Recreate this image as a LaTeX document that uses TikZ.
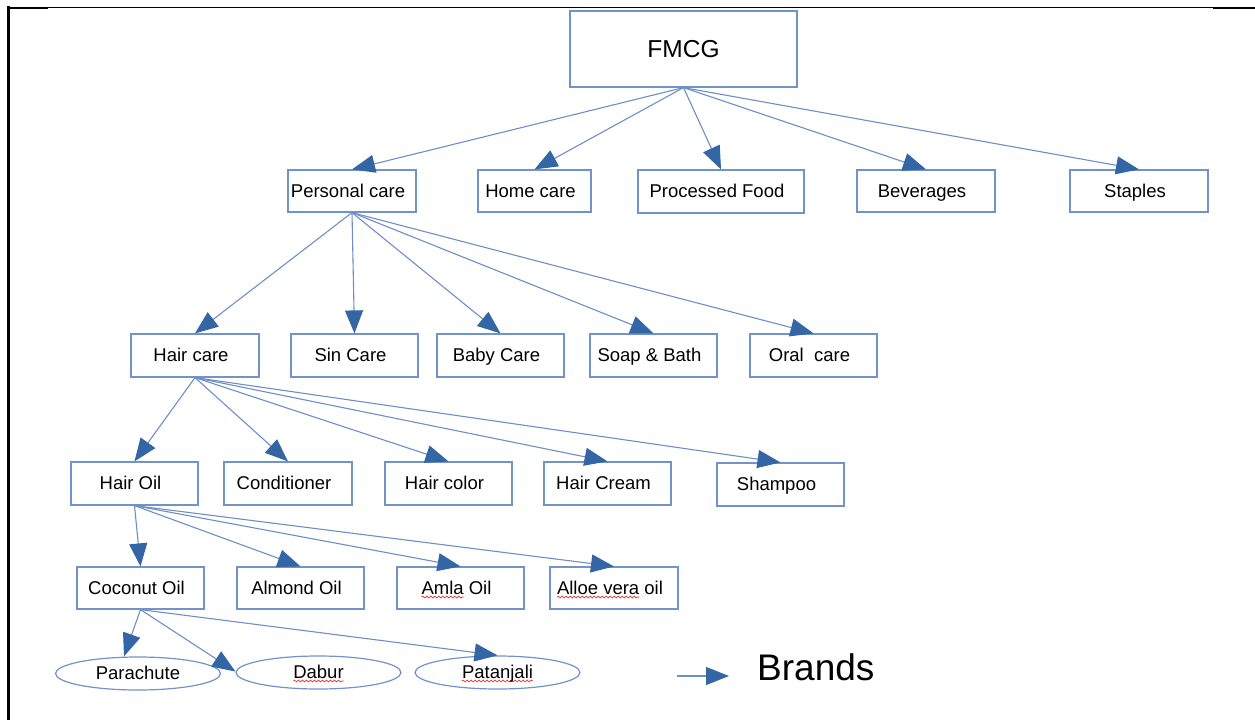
\documentclass[tikz,border=0pt]{standalone}
\usepackage{fontspec}
\setmainfont{Liberation Sans}
\usetikzlibrary{arrows.meta,shapes.geometric,decorations.pathmorphing,calc}
\definecolor{boxblue}{RGB}{114,147,202}
\definecolor{lineblue}{RGB}{110,142,200}
\definecolor{tipblue}{RGB}{52,101,164}
\definecolor{spellred}{RGB}{225,30,30}
\newlength\wavylen
\newcommand\wavy[1]{\settowidth\wavylen{#1}\rlap{\tikz[overlay,baseline=0pt,x=1pt,y=1pt]\draw[spellred,line width=0.6pt,decorate,decoration={snake,amplitude=0.9pt,segment length=4pt}] (0pt,-3pt) -- (\wavylen,-3pt);}#1}
\begin{document}
\begin{tikzpicture}[x=1pt,y=-1pt,
 plainbox/.style={draw=boxblue,line width=1.2pt,rectangle,inner sep=0pt,minimum width=127pt,minimum height=43pt,font=\fontsize{18.5}{20}\selectfont,text height=16pt,text depth=4pt},
 box/.style={plainbox,execute at begin node=\hspace*{-8pt}},
 brand/.style={draw=boxblue,line width=1.2pt,ellipse,inner sep=0pt,minimum width=165pt,minimum height=33pt,font=\fontsize{18.5}{20}\selectfont,text height=15pt,text depth=4pt},
 conn/.style={draw=lineblue,line width=1.1pt,-{Triangle[length=23pt,width=18pt,color=tipblue]}},
 frame/.style={draw=black}
]
\useasboundingbox (0,0) rectangle (1255,720);
% page frame
\draw[frame,line width=1pt] (8,7.2) -- (1255,7.2);
\draw[frame,line width=2pt] (8,7.7) -- (48,7.7);
\draw[frame,line width=2pt] (1213,7.7) -- (1255,7.7);
\draw[frame,line width=2.7pt] (8.7,6.2) -- (8.7,720);

% level 0
\node[plainbox,minimum width=227pt,minimum height=76pt,font=\fontsize{24.5}{27}\selectfont,text height=19pt,text depth=3pt] (fmcg) at (683.5,49) {FMCG};
% level 1
\node[box,minimum width=128pt,minimum height=42pt] (pc) at (352,191) {Personal care};
\node[box,minimum width=113pt,minimum height=42pt] (hc) at (534.5,191) {Home care};
\node[box,minimum width=166pt,minimum height=43pt] (pf) at (721,191.5) {Processed Food};
\node[box,minimum width=138pt,minimum height=42pt] (bev) at (926,191) {Beverages};
\node[box,minimum width=138pt,minimum height=42pt] (stp) at (1139,191) {Staples};
% level 2
\node[box,minimum width=128pt] (hair) at (195,355.5) {Hair care};
\node[box] (sin) at (354.5,355.5) {Sin Care};
\node[box] (baby) at (500.5,355.5) {Baby Care};
\node[box] (soap) at (653.5,355.5) {Soap \& Bath};
\node[box] (oral) at (813.5,355.5) {Oral\ \ care};
% level 3
\node[box] (oil) at (134.5,483.5) {Hair Oil};
\node[box,minimum width=128pt] (cond) at (288,483.5) {Conditioner};
\node[box] (color) at (448.5,483.5) {Hair color};
\node[box] (cream) at (607.5,483.5) {Hair Cream};
\node[box] (shamp) at (780.5,484.5) {Shampoo};
% level 4
\node[box,minimum height=42pt] (coco) at (140.5,588) {Coconut Oil};
\node[box,minimum height=42pt] (almond) at (300.5,588) {Almond Oil};
\node[box,minimum height=42pt] (amla) at (460.5,588) {\wavy{Amla} Oil};
\node[box,minimum width=128pt,minimum height=42pt] (aloe) at (614,588) {\wavy{Alloe vera} oil};
% brands
\node[brand] (para) at (138,673.5) {Parachute};
\node[brand] (dabur) at (318.5,672.5) {\wavy{Dabur}};
\node[brand] (patan) at (497.5,672.5) {\wavy{Patanjali}};

% connectors
\foreach \c in {pc,hc,pf,bev,stp} \draw[conn] (fmcg.south) -- (\c.north);
\foreach \c in {hair,sin,baby,soap,oral} \draw[conn] (pc.south) -- (\c.north);
\foreach \c in {oil,cond,color,cream,shamp} \draw[conn] (hair.south) -- (\c.north);
\foreach \c in {coco,almond,amla,aloe} \draw[conn] (oil.south) -- (\c.north);
\draw[conn] (coco.south) -- ([xshift=-14pt]para.north);
\draw[conn] (coco.south) -- ([yshift=1pt]dabur.west);
\draw[conn] (coco.south) -- (patan.north);

% legend
\coordinate (legs) at (677,676);
\coordinate (lege) at (729,676);
\draw[conn] (legs) -- (lege);
\node[anchor=base west,inner sep=0pt,font=\fontsize{37}{40}\selectfont] (brandslbl) at (757,680) {Brands};
\end{tikzpicture}
\end{document}
